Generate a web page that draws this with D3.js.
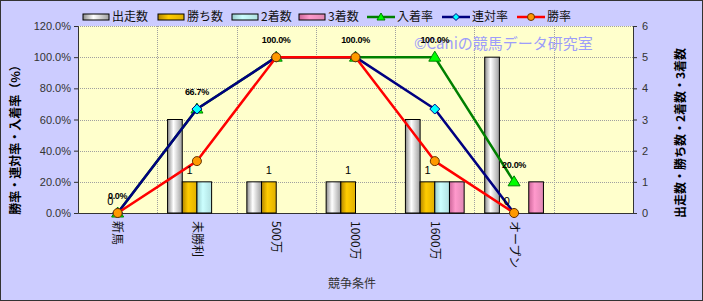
<!DOCTYPE html>
<html><head><meta charset="utf-8">
<script src="https://cdn.jsdelivr.net/npm/d3@7"></script>
<style>
html,body{margin:0;padding:0;background:#ccccff;}
svg{display:block;}
</style></head>
<body>
<svg id="c" width="703" height="301"></svg>
<script>
const categories = ["新馬","未勝利","500万","1000万","1600万","オープン",""];
const starts   = [0,3,1,1,3,5,null];
const wins     = [0,1,1,1,1,0,null];
const seconds  = [0,1,0,0,1,0,null];
const thirds   = [0,0,0,0,1,1,null];
const placeRate  = [0,66.7,100,100,100,20];
const rentaiRate = [0,66.7,100,100,66.7,0];
const winRate    = [0,33.3,100,100,33.3,0];
const leftTicks = [0,20,40,60,80,100,120];
const rightTicks = [0,1,2,3,4,5,6];

const barSeries = [
  {name:"出走数", values:starts, grad:["#8c8c8c","#ffffff","#a0a0a0"]},
  {name:"勝ち数", values:wins, grad:["#b38600","#ffcc00","#e0b000"]},
  {name:"2着数", values:seconds, grad:["#99cccc","#ccffff","#b0e0e0"]},
  {name:"3着数", values:thirds, grad:["#cc6699","#ff99cc","#e088b4"]}
];
const lineSeries = [
  {name:"入着率", values:placeRate, color:"#008000", fill:"#00ff00", marker:"triangle"},
  {name:"連対率", values:rentaiRate, color:"#000080", fill:"#00ffff", marker:"diamond"},
  {name:"勝率", values:winRate, color:"#ff0000", fill:"#ff9900", marker:"circle"}
];

const svg = d3.select("#c");
const W=703,H=301;
const L=78,R=633,T=26,B=213;
const jp = "'Noto Sans CJK JP','Noto Sans',sans-serif";
const num = "'Liberation Sans',Arial,sans-serif";

svg.append("rect").attr("x",0.5).attr("y",0.5).attr("width",W-1).attr("height",H-1)
  .attr("fill","#ccccff").attr("stroke","#333").attr("stroke-width",1);

const defs = svg.append("defs");
barSeries.forEach((s,i)=>{
  const g = defs.append("linearGradient").attr("id","g"+i).attr("x1","0").attr("x2","1").attr("y1","0").attr("y2","0");
  g.append("stop").attr("offset","0%").attr("stop-color",s.grad[0]);
  g.append("stop").attr("offset","40%").attr("stop-color",s.grad[1]);
  g.append("stop").attr("offset","100%").attr("stop-color",s.grad[2]);
});

const x = d3.scaleBand().domain(categories.map((c,i)=>i)).range([L,R]).padding(0);
const xi = d3.scaleBand().domain(d3.range(barSeries.length)).range([0,x.bandwidth()]).paddingInner(0).paddingOuter(0.7);
const yL = d3.scaleLinear().domain([0,120]).range([B,T]);
const yR = d3.scaleLinear().domain([0,6]).range([B,T]);

// plot background
svg.append("rect").attr("x",L).attr("y",T).attr("width",R-L).attr("height",B-T).attr("fill","#ffffcc");

// grid
const grid = svg.append("g").attr("stroke","#a0a0a0").attr("stroke-dasharray","1,1").attr("stroke-width",1);
leftTicks.slice(1).forEach(t=>{
  grid.append("line").attr("x1",L).attr("x2",R).attr("y1",Math.round(yL(t))+0.5).attr("y2",Math.round(yL(t))+0.5);
});
categories.forEach((c,i)=>{ if(i>0){
  const xx = Math.round(x(i))+0.5;
  grid.append("line").attr("x1",xx).attr("x2",xx).attr("y1",T).attr("y2",B);
}});

// axes
const axL = svg.append("g").attr("transform",`translate(${L},0)`)
  .call(d3.axisLeft(yL).tickValues(leftTicks).tickSize(4).tickFormat(d=>d.toFixed(1)+"%"));
const axR = svg.append("g").attr("transform",`translate(${R},0)`)
  .call(d3.axisRight(yR).tickValues(rightTicks).tickSize(4).tickFormat(d3.format("d")));
[axL,axR].forEach(a=>{
  a.select(".domain").attr("stroke","#333");
  a.selectAll(".tick line").attr("stroke","#333");
  a.selectAll("text").attr("font-family",num).attr("font-size","11px").attr("fill","#333");
});
axL.selectAll("text").attr("x",-7);
axR.selectAll("text").attr("x",9);
const axB = svg.append("g").attr("transform",`translate(0,${B})`)
  .call(d3.axisBottom(x).tickSize(0).tickFormat(i=>categories[i]));
axB.select(".domain").attr("stroke","#333");
axB.selectAll("text").attr("font-family",jp).attr("font-size","12px").attr("fill","#111")
  .attr("transform","rotate(90)").attr("text-anchor","start").attr("x",8).attr("y",0).attr("dy","0.35em");

// bars
const bars = svg.append("g");
barSeries.forEach((s,si)=>{
  s.values.forEach((v,i)=>{
    if(v==null || v<=0) return;
    bars.append("rect")
      .attr("x", x(i)+xi(si)).attr("width", xi.bandwidth())
      .attr("y", yR(v)).attr("height", yR(0)-yR(v))
      .attr("fill", `url(#g${si})`).attr("stroke","#000").attr("stroke-width",1);
  });
});

// watermark
svg.append("text").attr("x",414).attr("y",49).text("©Caniの競馬データ研究室")
  .attr("font-family",jp).attr("font-size","15px").attr("fill","#9d9dfa");

// lines
const cx = i => x(i)+x.bandwidth()/2;
function drawMarker(g, m, px, py, s){
  if(m==="triangle"){
    g.append("path").attr("d",`M${px},${py-6}L${px+6},${py+4}L${px-6},${py+4}Z`)
      .attr("fill",s.fill).attr("stroke",s.color).attr("stroke-width",1);
  } else if(m==="diamond"){
    g.append("path").attr("d",`M${px},${py-5}L${px+5},${py}L${px},${py+5}L${px-5},${py}Z`)
      .attr("fill",s.fill).attr("stroke",s.color).attr("stroke-width",1);
  } else {
    g.append("circle").attr("cx",px).attr("cy",py).attr("r",4.5)
      .attr("fill",s.fill).attr("stroke","#663300").attr("stroke-width",1);
  }
}
const lineGen = d3.line().x((d,i)=>cx(i)).y(d=>yL(d));
lineSeries.forEach(s=>{
  const g = svg.append("g");
  g.append("path").attr("d",lineGen(s.values)).attr("fill","none")
    .attr("stroke",s.color).attr("stroke-width",2.5).attr("stroke-linejoin","round");
  s.values.forEach((v,i)=>drawMarker(g,s.marker,cx(i),yL(v),s));
});

// data labels: 入着率
placeRate.forEach((v,i)=>{
  svg.append("text").attr("x",cx(i)).attr("y",yL(v)-17).attr("dy","0.35em")
    .attr("text-anchor","middle").attr("font-family",num).attr("font-weight","bold")
    .attr("font-size","9px").attr("letter-spacing","-0.3px").attr("fill","#000").text(v.toFixed(1)+"%");
});
// data labels: 勝ち数
wins.forEach((v,i)=>{
  if(v==null) return;
  svg.append("text").attr("x",x(i)+xi(1)+xi.bandwidth()/2).attr("y",yR(v)-12).attr("dy","0.35em")
    .attr("text-anchor","middle").attr("font-family",num).attr("font-size","11px").attr("fill","#000").text(v);
});

// axis titles
svg.append("text").attr("transform","translate(16,137) rotate(-90)").attr("text-anchor","middle")
  .attr("dy","0.35em").attr("font-family",jp).attr("font-size","12px").attr("font-weight","bold").attr("fill","#000")
  .text("勝率・連対率・入着率（%）");
svg.append("text").attr("transform","translate(681,133) rotate(-90)").attr("text-anchor","middle")
  .attr("dy","0.35em").attr("font-family",jp).attr("font-size","12px").attr("font-weight","bold").attr("fill","#000")
  .text("出走数・勝ち数・2着数・3着数");
svg.append("text").attr("x",352).attr("y",284).attr("dy","0.35em").attr("text-anchor","middle")
  .attr("font-family",jp).attr("font-size","12px").attr("fill","#333").text("競争条件");

// legend
const leg = svg.append("g").attr("font-family",jp).attr("font-size","12px").attr("fill","#111");
const legY = 17;
const legX = [83,158,232,299,367,442,517];
barSeries.forEach((s,si)=>{
  leg.append("rect").attr("x",legX[si]).attr("y",legY-3).attr("width",26).attr("height",6)
    .attr("fill",`url(#g${si})`).attr("stroke","#000").attr("stroke-width",1);
  leg.append("text").attr("x",legX[si]+29).attr("y",legY).attr("dy","0.35em").text(s.name);
});
lineSeries.forEach((s,li)=>{
  const lx = legX[4+li];
  const g = leg.append("g");
  g.append("line").attr("x1",lx).attr("x2",lx+28).attr("y1",legY).attr("y2",legY)
    .attr("stroke",s.color).attr("stroke-width",2.5);
  const m = s.marker;
  const px=lx+14, py=legY;
  if(m==="triangle") g.append("path").attr("d",`M${px},${py-4}L${px+4},${py+3}L${px-4},${py+3}Z`).attr("fill",s.fill).attr("stroke",s.color);
  else if(m==="diamond") g.append("path").attr("d",`M${px},${py-3.5}L${px+3.5},${py}L${px},${py+3.5}L${px-3.5},${py}Z`).attr("fill",s.fill).attr("stroke",s.color);
  else g.append("circle").attr("cx",px).attr("cy",py).attr("r",3.5).attr("fill",s.fill).attr("stroke","#663300");
  leg.append("text").attr("x",lx+30).attr("y",legY).attr("dy","0.35em").text(s.name);
});
</script>
</body></html>
